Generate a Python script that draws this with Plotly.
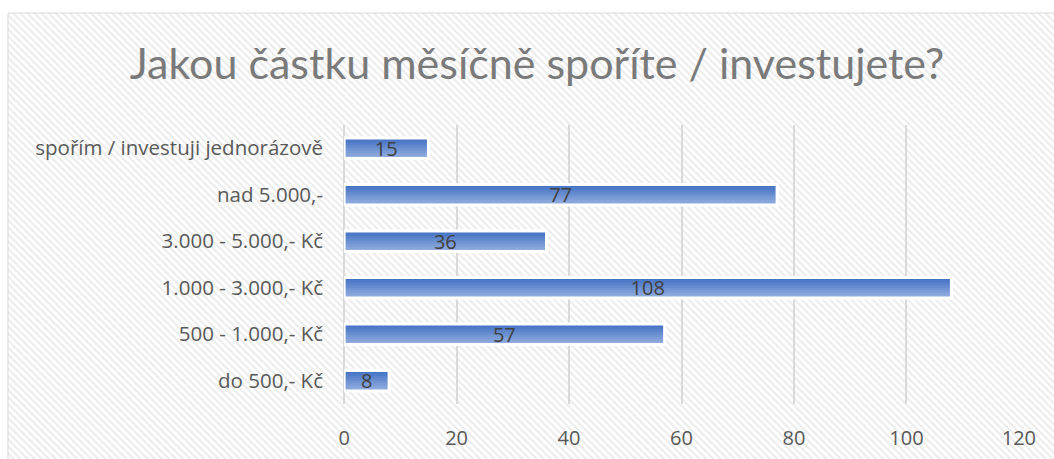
import plotly.graph_objects as go

# ---- data ----
categories = [
    "do 500,- Kč",
    "500 - 1.000,- Kč",
    "1.000 - 3.000,- Kč",
    "3.000 - 5.000,- Kč",
    "nad 5.000,-",
    "spořím / investuji jednorázově",
]
values = [8, 57, 108, 36, 77, 15]
x_ticks = [0, 20, 40, 60, 80, 100, 120]
title_text = "Jakou částku měsíčně spoříte / investujete?"

# ---- layout geometry (pixels) ----
W, H = 1054, 459
PL, PR, PT, PB = 344, 1019, 125, 404
FONT = "'Open Sans', 'Noto Sans', sans-serif"
TFONT = "Lato, 'Open Sans', sans-serif"

fig = go.Figure()

# background hatched chart area (on a hidden full-page axis pair)
bx0, by0 = 8, 13
fig.add_trace(go.Scatter(
    x=[bx0, W + 5, W + 5, bx0, bx0], y=[by0, by0, H + 5, H + 5, by0],
    xaxis="x", yaxis="y", mode="lines", fill="toself",
    line=dict(color="#d9d9d9", width=1),
    fillcolor="white",
    fillpattern=dict(shape="\\", size=5, solidity=0.45, fgcolor="#dadada", bgcolor="white"),
    hoverinfo="skip", showlegend=False,
))

# gradient bars: stacked bands (dark top -> light bottom)
bar_w = 0.44
n = 8
c_top = (0x44, 0x72, 0xC4)
c_bot = (0x92, 0xAD, 0xDE)
for k in range(n):
    t = k / (n - 1)
    col = "rgb(%d,%d,%d)" % tuple(round(a + (b - a) * t) for a, b in zip(c_top, c_bot))
    frac = (n - k) / n
    fig.add_trace(go.Bar(
        y=categories, x=values, orientation="h",
        xaxis="x2", yaxis="y2",
        width=[bar_w * frac] * len(values), offset=-bar_w / 2,
        marker=dict(color=col, line=dict(width=0)),
        hoverinfo="skip", showlegend=False,
    ))

# outline + labels
fig.add_trace(go.Bar(
    y=categories, x=values, orientation="h",
    xaxis="x2", yaxis="y2",
    width=bar_w, offset=-bar_w / 2,
    marker=dict(color="rgba(0,0,0,0)", line=dict(color="white", width=3)),
    text=[str(v) for v in values], textposition="inside", textangle=0,
    insidetextanchor="middle", constraintext="none",
    textfont=dict(family=FONT, size=20, color="#404040"),
    showlegend=False,
))

fig.update_layout(
    width=W, height=H, autosize=False,
    margin=dict(l=0, r=0, t=0, b=0, pad=0),
    paper_bgcolor="white", plot_bgcolor="rgba(0,0,0,0)",
    barmode="overlay",
    title=dict(text=title_text, x=537 / W, xanchor="center", y=1 - 64 / H, yanchor="middle",
               font=dict(family=TFONT, size=43, color="#7a7a7a")),
    xaxis=dict(domain=[0, 1], range=[0, W], visible=False, fixedrange=True, automargin=False),
    yaxis=dict(domain=[0, 1], range=[H, 0], visible=False, fixedrange=True, automargin=False),
    xaxis2=dict(domain=[PL / W, PR / W], anchor="y2", range=[-0.02, 120.02], tickvals=x_ticks,
                showgrid=True, gridcolor="#d9d9d9", gridwidth=2, automargin=False,
                zeroline=True, zerolinecolor="#d9d9d9", zerolinewidth=2,
                showline=False, ticks="", ticklabelstandoff=20,
                tickfont=dict(family=FONT, size=20, color="#595959")),
    yaxis2=dict(domain=[(H - PB) / H, (H - PT) / H], anchor="x2", type="category",
                categoryorder="array", categoryarray=categories, automargin=False,
                showgrid=False, zeroline=False, showline=False, ticks="",
                ticklabelstandoff=20,
                tickfont=dict(family=FONT, size=20.5, color="#595959")),
)

fig.write_html("out.html", config={"displayModeBar": False},
               post_script="document.body.style.margin='0';document.body.style.overflow='hidden';")
